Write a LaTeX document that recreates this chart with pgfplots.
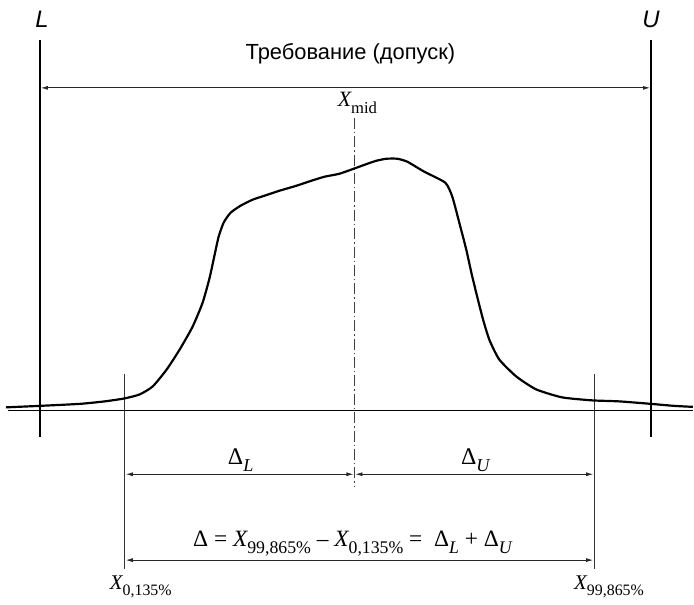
\documentclass[border=0pt]{standalone}
\usepackage{pgfplots}
\pgfplotsset{compat=1.18}
\usepackage{graphicx}
\usepackage{fontspec}
\setmainfont{Liberation Sans}
\newfontfamily\sr{Liberation Serif}
\usetikzlibrary{arrows.meta}

% subscript set in text fonts
\newcommand\sub[1]{\raisebox{-0.3em}{\scalebox{0.76}{#1}}}
\newcommand\X{{\itshape X}}

% process distribution curve, drawing units (x to the right, y downwards)
\pgfplotstableread{
x y
6 408
40 406.5
80 404.5
105 402
125 399
140 395
153 387
167 370
180 350
193 327
203 303
210 278
215 255
219 237
224 223
231 213
241 206
253 200
265 196
280 191
297 186
312 181
325 177
340 174
357 168
368 164
377 161
387 159
398 159
408 162
425 172
446 183
453 197
460 223
467 250
473 277
483 317
490 340
500 360
517 377
537 390
563 398
593 401
620 402
652 404.5
675 406.5
694 407.5
}\curve

\begin{document}
\begin{tikzpicture}
\begin{axis}[scale only axis, width=694bp, height=605bp,
  xmin=0, xmax=694, ymin=0, ymax=605, y dir=reverse,
  hide axis, clip=false]

% drawing frame (keeps the page at the full drawing size)
\path (axis cs:0,0) rectangle (axis cs:694,605);

% baseline
\addplot[black, line width=1.4pt] coordinates {(8,411) (694,411)};
% specification limits
\addplot[black, line width=1.8pt] coordinates {(40,40) (40,438)};
\addplot[black, line width=1.8pt] coordinates {(652,40) (652,438)};
% quantile lines
\addplot[black!80, line width=0.8pt] coordinates {(125,375) (125,570)};
\addplot[black!80, line width=0.8pt] coordinates {(595,375) (595,570)};
% centre line
\addplot[black!75, line width=0.8pt, dash pattern=on 11pt off 3pt on 1.5pt off 3pt] coordinates {(355,118) (355,487)};

% distribution
\addplot[black, line width=2.2pt, smooth, tension=0.35] table[x=x, y=y] {\curve};

% dimension arrows
\draw[{Latex[length=7pt,width=4pt]}-{Latex[length=7pt,width=4pt]}, line width=0.8pt, black!85] (axis cs:41,88) -- (axis cs:651,88);
\draw[{Latex[length=7pt,width=4pt]}-{Latex[length=7pt,width=4pt]}, line width=0.8pt, black!85] (axis cs:126,475) -- (axis cs:354,475);
\draw[{Latex[length=7pt,width=4pt]}-{Latex[length=7pt,width=4pt]}, line width=0.8pt, black!85] (axis cs:356,475) -- (axis cs:594,475);
\draw[{Latex[length=7pt,width=4pt]}-{Latex[length=7pt,width=4pt]}, line width=0.8pt, black!85] (axis cs:126,561) -- (axis cs:594,561);

% labels
\node[font=\fontsize{24}{26}\selectfont\itshape] at (axis cs:42,19) {L};
\node[font=\fontsize{24}{26}\selectfont\itshape] at (axis cs:652,19) {U};
\node[font=\fontsize{22}{24}\selectfont, anchor=base] at (axis cs:351,60) {Требование (допуск)};
\node[font=\fontsize{22}{24}\selectfont\sr, anchor=base] at (axis cs:358,107) {\X\sub{mid}};
\node[font=\fontsize{24}{26}\selectfont\sr, anchor=base] at (axis cs:241,465) {Δ\sub{\itshape L}};
\node[font=\fontsize{24}{26}\selectfont\sr, anchor=base] at (axis cs:476,465) {Δ\sub{\itshape U}};
\node[font=\fontsize{23.5}{25}\selectfont\sr, anchor=base] at (axis cs:353,547) {Δ = \X\sub{99,865\%} – \X\sub{0,135\%} =\ \ Δ\sub{\itshape L} + Δ\sub{\itshape U}};
\node[font=\fontsize{21}{23}\selectfont\sr, anchor=base] at (axis cs:141,590) {\X\sub{0,135\%}};
\node[font=\fontsize{21}{23}\selectfont\sr, anchor=base] at (axis cs:610,590) {\X\sub{99,865\%}};
\end{axis}
\end{tikzpicture}
\end{document}
